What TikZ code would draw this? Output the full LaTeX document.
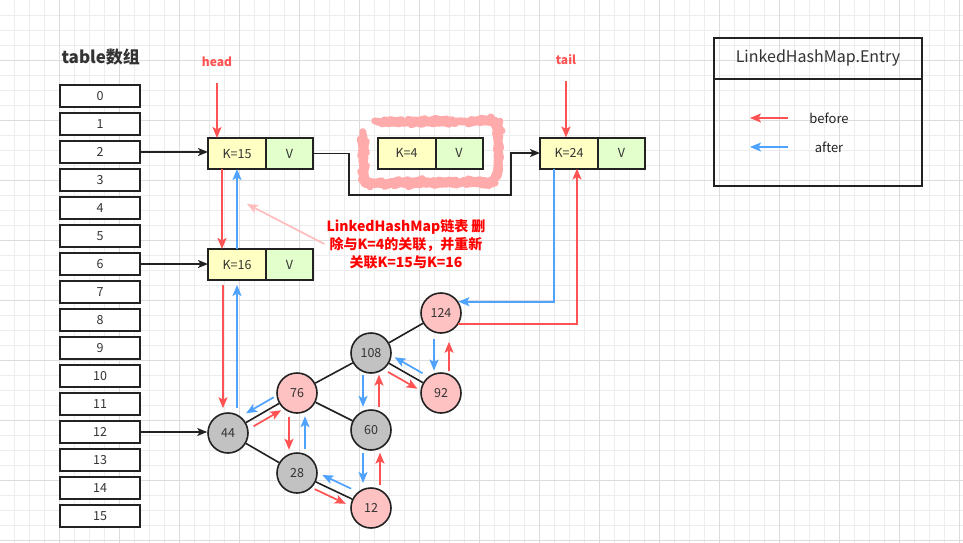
\documentclass[tikz,border=0pt]{standalone}
\usepackage{fontspec}
\setmainfont{Noto Sans CJK SC}
\usepackage{tikz}
\usetikzlibrary{arrows.meta, positioning, calc, decorations.pathmorphing}
\usepackage{xcolor}
\definecolor{InkBlack}{HTML}{222222}
\definecolor{TextGrey}{HTML}{333333}
\definecolor{GridMinor}{HTML}{EDEDED}
\definecolor{GridMajor}{HTML}{DCDCDC}
\definecolor{LinkRed}{HTML}{FF5252}
\definecolor{LinkBlue}{HTML}{4FA3FF}
\definecolor{NoteRed}{HTML}{FF0000}
\definecolor{PointerPink}{HTML}{FFBDBD}
\definecolor{ScribblePink}{HTML}{FFABAB}
\definecolor{KeyYellow}{HTML}{FFFFC4}
\definecolor{ValueGreen}{HTML}{E2FFCC}
\definecolor{NodePink}{HTML}{FFC2C2}
\definecolor{NodeGrey}{HTML}{C2C2C2}
\tikzset{
  % Background grid
  gridminor/.style={draw=GridMinor, line width=0.8pt},
  gridmajor/.style={draw=GridMajor, line width=0.9pt},
  % Bucket of the table array
  bucket/.style={
    rectangle, draw=InkBlack, line width=2pt,
    fill=white, minimum width=80pt, minimum height=22pt,
    inner sep=0pt, text=TextGrey,
    font=\fontsize{12.5}{14}\selectfont
  },
  % Key half of an entry
  keybox/.style={
    rectangle, draw=InkBlack, line width=2pt,
    fill=KeyYellow, minimum width=58pt, minimum height=31pt,
    inner sep=0pt, outer sep=0pt, text=TextGrey,
    font=\fontsize{12.5}{14}\selectfont
  },
  % Value half of an entry
  valbox/.style={keybox, fill=ValueGreen, minimum width=47pt},
  % Tree nodes
  rednode/.style={
    circle, draw=InkBlack, line width=1.6pt,
    fill=NodePink, minimum size=40pt, inner sep=0pt,
    text=TextGrey, font=\fontsize{12.5}{14}\selectfont
  },
  blacknode/.style={rednode, fill=NodeGrey},
  treeedge/.style={line width=1.6pt, draw=InkBlack},
  % Arrow styles
  link/.style={
    -{Stealth[length=10pt,width=8pt,inset=2.5pt]},
    line width=1.5pt, draw=InkBlack
  },
  before/.style={
    -{Stealth[length=11pt,width=9pt,inset=2.5pt]},
    line width=1.7pt, draw=LinkRed
  },
  after/.style={before, draw=LinkBlue},
  pointer/.style={before, draw=PointerPink},
  scribble/.style={
    draw=ScribblePink, line width=7pt,
    line join=round, line cap=round, rounded corners=9pt,
    decorate, decoration={random steps, segment length=3pt, amplitude=0.7pt}
  },
  % Texts
  tabletitle/.style={anchor=west, text=TextGrey, font=\bfseries\fontsize{17}{20}\selectfont},
  ptrlabel/.style={text=LinkRed, font=\bfseries\fontsize{12}{14}\selectfont},
  note/.style={
    align=center, text=NoteRed, inner sep=2pt,
    font=\bfseries\fontsize{14}{18}\selectfont
  },
  % Legend box
  entrybox/.style={
    rectangle, draw=InkBlack, line width=2pt,
    minimum width=208pt, minimum height=148pt, outer sep=0pt
  },
  entryhead/.style={
    rectangle, draw=InkBlack, line width=2pt,
    minimum width=208pt, minimum height=41pt, outer sep=0pt,
    text=TextGrey, font=\fontsize{16}{19}\selectfont
  },
  legendtext/.style={text=InkBlack, font=\fontsize{13}{15}\selectfont}
}
\begin{document}
\begin{tikzpicture}[x=1pt, y=-1pt]

% ── canvas and grid ─────────────────────────────────────────
\useasboundingbox (0,0) rectangle (963,543);
\fill[white] (0,0) rectangle (963,543);
\foreach \gx in {14,29,...,959} \draw[gridminor] (\gx,0) -- (\gx,543);
\foreach \gy in {15,30,...,540} \draw[gridminor] (0,\gy) -- (963,\gy);
\foreach \gx in {59,119,...,959} \draw[gridmajor] (\gx,0) -- (\gx,543);
\foreach \gy in {60,120,...,540} \draw[gridmajor] (0,\gy) -- (963,\gy);

% ── table array ─────────────────────────────────────────────
\node[tabletitle] (tbl_title) at (58,57) {table数组};
\foreach \i in {0,...,15}
  \node[bucket] (t\i) at (100,{96+28*\i}) {\i};

% ── linked entries ──────────────────────────────────────────
\node[keybox] (k15) at (237,153.5) {K=15};
\node[valbox, anchor=west] (v15) at (k15.east) {V};

\node[keybox] (k4) at (406.5,153) {K=4};
\node[valbox, anchor=west] (v4) at (k4.east) {V};

\node[keybox] (k24) at (569,153) {K=24};
\node[valbox, anchor=west] (v24) at (k24.east) {V};

\node[keybox] (k16) at (237,264.5) {K=16};
\node[valbox, anchor=west] (v16) at (k16.east) {V};

% removed entry
\draw[scribble] (381,122) -- (497,121) -- (499,158) -- (495,182)
  -- (364,183) -- (363,137);

\node[ptrlabel] (head) at (217,62) {head};
\node[ptrlabel] (tail) at (566,60) {tail};
\coordinate (head_from) at (217,83);
\coordinate (tail_from) at (566,81);

\node[note] (note) at (406,244)
  {LinkedHashMap链表 删\\除与K=4的关联，并重新\\关联K=15与K=16};
\coordinate (note_tip) at (247,204);

% ── red-black tree of bucket 12 ─────────────────────────────
\node[blacknode] (n44)  at (228,433) {44};
\node[rednode]   (n76)  at (297,393) {76};
\node[blacknode] (n28)  at (297,473) {28};
\node[blacknode] (n108) at (371,353) {108};
\node[blacknode] (n60)  at (371,430) {60};
\node[rednode]   (n12)  at (371,508) {12};
\node[rednode]   (n124) at (441,313) {124};
\node[rednode]   (n92)  at (441,393) {92};

\draw[treeedge] (n124) -- (n108);
\draw[treeedge] (n108) -- (n76);
\draw[treeedge] (n108) -- (n92);
\draw[treeedge] (n76)  -- (n44);
\draw[treeedge] (n76)  -- (n60);
\draw[treeedge] (n44)  -- (n28);
\draw[treeedge] (n28)  -- (n12);

% ── legend ──────────────────────────────────────────────────
\node[entrybox] (entry) at (818,112) {};
\node[entryhead, anchor=north] (entry_title) at (entry.north) {LinkedHashMap.Entry};
\node[legendtext] (lg_before) at (829,118) {before};
\node[legendtext] (lg_after)  at (829,147) {after};
\coordinate (lg_red)  at (788,118);
\coordinate (lg_blue) at (788,147);
\draw[before] (lg_red)  -- ++(-38,0);
\draw[after]  (lg_blue) -- ++(-38,0);

% ── connectors ──────────────────────────────────────────────
\draw[link] (t2.east)  -- (t2.east -| k15.west);
\draw[link] (t6.east)  -- (t6.east -| k16.west);
\draw[link] (t12.east) -- (t12.east -| n44.west);
\draw[link] (v15.east) -| (349,195) -| (511,153) -- (k24.west);

\draw[before] (head_from) -- (head_from |- k15.north);
\draw[before] (tail_from) -- (tail_from |- k24.north);
\draw[pointer] (note.west) -- (note_tip);

\coordinate (k15_red) at ([xshift=-15pt]k15.south);
\coordinate (k16_red) at ([xshift=-14pt]k16.south);
\draw[before] (k15_red) -- (k15_red |- k16.north);
\draw[after]  (k16.north) -- (k15.south);
\draw[before, shorten <=5pt, shorten >=4pt] (k16_red) -- (k16_red |- n44.north);
\draw[after, shorten <=4pt, shorten >=5pt] (k16.south |- n44.north) -- (k16.south);

\draw[before] ($(n44)!0.32!(n76)!7pt!-90:(n76)$)  -- ($(n44)!0.72!(n76)!7pt!-90:(n76)$);
\draw[after]  ($(n76)!0.28!(n44)!8pt!-90:(n44)$)  -- ($(n76)!0.68!(n44)!8pt!-90:(n44)$);
\draw[before] ($(n76)!0.30!(n28)!8pt!-90:(n28)$)  -- ($(n76)!0.71!(n28)!8pt!-90:(n28)$);
\draw[after]  ($(n28)!0.30!(n76)!8pt!-90:(n76)$)  -- ($(n28)!0.71!(n76)!8pt!-90:(n76)$);
\draw[before] ($(n28)!0.28!(n12)!7pt!-90:(n12)$)  -- ($(n28)!0.70!(n12)!7pt!-90:(n12)$);
\draw[after]  ($(n12)!0.32!(n28)!9pt!-90:(n28)$)  -- ($(n12)!0.71!(n28)!9pt!-90:(n28)$);
\draw[before] ($(n12)!0.30!(n60)!9pt!-90:(n60)$)  -- ($(n12)!0.71!(n60)!9pt!-90:(n60)$);
\draw[after]  ($(n60)!0.29!(n12)!8pt!-90:(n12)$)  -- ($(n60)!0.68!(n12)!8pt!-90:(n12)$);
\draw[before] ($(n60)!0.30!(n108)!8pt!-90:(n108)$) -- ($(n60)!0.72!(n108)!8pt!-90:(n108)$);
\draw[after]  ($(n108)!0.28!(n60)!8pt!-90:(n60)$)  -- ($(n108)!0.70!(n60)!8pt!-90:(n60)$);
\draw[before] ($(n108)!0.30!(n92)!8pt!-90:(n92)$)  -- ($(n108)!0.72!(n92)!8pt!-90:(n92)$);
\draw[after]  ($(n92)!0.32!(n108)!8pt!-90:(n108)$) -- ($(n92)!0.72!(n108)!8pt!-90:(n108)$);
\draw[before] ($(n92)!0.27!(n124)!8pt!-90:(n124)$) -- ($(n92)!0.64!(n124)!8pt!-90:(n124)$);
\draw[after]  ($(n124)!0.32!(n92)!7pt!-90:(n92)$)  -- ($(n124)!0.72!(n92)!7pt!-90:(n92)$);

\draw[after]  ([xshift=-15pt]k24.south) |- (n124.33);
\draw[before] (n124.-33) -| ([xshift=8pt]k24.south);

\end{tikzpicture}
\end{document}
